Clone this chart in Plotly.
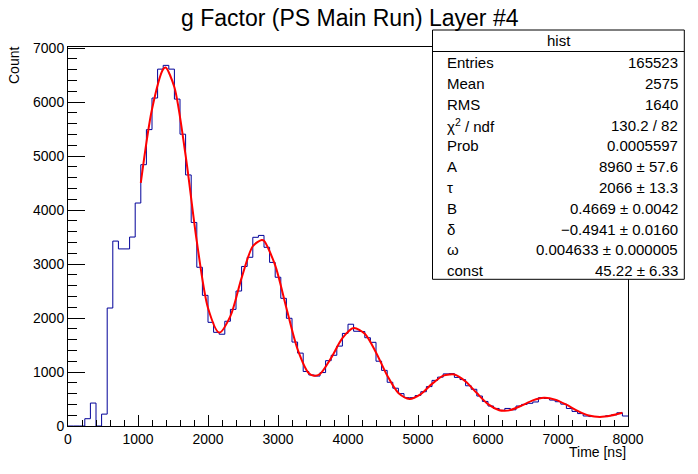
import numpy as np
import plotly.graph_objects as go

# histogram: 100 bins of 80 ns between 0 and 8000 ns
bin_width = 80
bin_edges = np.arange(0, 8000 + bin_width, bin_width)
counts = [
    0, 0, 0, 135, 425, 0, 220, 2185, 3425, 3280,
    3280, 3500, 4130, 4840, 5490, 6075, 6610, 6680, 6610, 6055,
    5405, 4650, 3770, 2940, 2420, 1920, 1735, 1700, 1940, 2160,
    2500, 2955, 3125, 3495, 3530, 3310, 3030, 2755, 2365, 1995,
    1555, 1350, 1010, 945, 925, 990, 1210, 1310, 1480, 1715,
    1885, 1755, 1750, 1635, 1550, 1200, 1030, 810, 700, 600,
    525, 525, 565, 635, 730, 845, 905, 965, 970, 900,
    860, 745, 680, 555, 455, 370, 325, 290, 325, 300,
    370, 400, 420, 445, 525, 510, 480, 450, 405, 325,
    270, 230, 185, 175, 175, 175, 190, 205, 245, 185,
]

# red fit curve
fit_t = [1040, 1200, 1360, 1395, 1520, 1680, 1840, 2000, 2160, 2320,
         2480, 2640, 2767, 2800, 2960, 3120, 3280, 3440, 3510, 3600,
         3760, 3920, 4080, 4240, 4400, 4560, 4720, 4880, 5040, 5200,
         5360, 5452, 5520, 5680, 5840, 6000, 6160, 6238, 6320, 6480,
         6640, 6800, 6960, 7120, 7280, 7440, 7600, 7760, 7920]
fit_y = [4504, 5866, 6609, 6640, 6273, 5013, 3420, 2186, 1730, 2036,
         2743, 3329, 3445, 3430, 2976, 2186, 1419, 976, 932, 964,
         1263, 1627, 1814, 1709, 1362, 934, 610, 499, 590, 780,
         934, 955, 953, 825, 610, 406, 293, 284, 295, 378,
         474, 521, 489, 394, 279, 194, 167, 194, 245]

stats_labels = ["Entries", "Mean", "RMS", "χ<sup>2</sup> / ndf", "Prob", "A",
                "τ", "B", "δ", "ω", "const"]
stats_values = ["165523", "2575", "1640", "130.2 / 82", "0.0005597",
                "8960 ± 57.6", "2066 ± 13.3", "0.4669 ± 0.0042",
                "−0.4941 ± 0.0160", "0.004633 ± 0.000005", "45.22 ± 6.33"]

FONT = "Liberation Sans, Arial, sans-serif"
# page body adds an 8px offset, so the figure is sized/margined in page pixels minus 8
OFF = 8
W, H = 682, 458
L, T = 68, 47          # frame left/top in page pixels
pw, ph = 560, 379      # frame size
R = W - (L - OFF) - pw
B = H - (T - OFF) - ph


def px(x):
    return (x - L) / pw


def py(y):
    return (T + ph - y) / ph


fig = go.Figure()
fig.add_trace(go.Scatter(
    x=bin_edges, y=counts + [counts[-1]],
    mode="lines", line=dict(color="rgb(0,0,153)", width=1, shape="hv"),
    name="hist", hoverinfo="skip",
))
fig.add_trace(go.Scatter(
    x=fit_t, y=fit_y,
    mode="lines", line=dict(color="#ff0000", width=2, shape="spline", smoothing=0.8),
    name="fit",
))

axis_common = dict(
    showline=True, mirror=True, linecolor="black", linewidth=1,
    showgrid=False, zeroline=False, ticks="inside", tickcolor="black",
    tickfont=dict(family=FONT, size=14, color="black"),
)
fig.update_xaxes(range=[0, 8000], dtick=1000, ticklen=11,
                 minor=dict(dtick=200, ticks="inside", ticklen=6, tickcolor="black"),
                 **axis_common)
fig.update_yaxes(range=[0, 7020], dtick=1000, ticklen=17,
                 minor=dict(dtick=200, ticks="inside", ticklen=9, tickcolor="black"),
                 **axis_common)

# stats box
shapes = [
    dict(type="rect", xref="paper", yref="paper", x0=px(432.5), x1=px(684.3),
         y0=py(279.3), y1=py(30), line=dict(color="black", width=1),
         fillcolor="white", layer="above"),
    dict(type="line", xref="paper", yref="paper", x0=px(432.5), x1=px(684.3),
         y0=py(51.5), y1=py(51.5), line=dict(color="black", width=1), layer="above"),
]
annotations = [
    dict(text="hist", x=px(558.5), y=py(40.5), xanchor="center", yanchor="middle"),
]
for i, (lab, val) in enumerate(zip(stats_labels, stats_values)):
    yy = py(62.7 + 20.8 * i)
    annotations.append(dict(text=lab, x=px(445), y=yy, xanchor="left", yanchor="middle"))
    annotations.append(dict(text=val, x=px(680), y=yy, xanchor="right", yanchor="middle"))
for a in annotations:
    a.update(xref="paper", yref="paper", showarrow=False,
             font=dict(family=FONT, size=15, color="black"))

annotations += [
    dict(text="g Factor (PS Main Run) Layer #4", x=px(349.5), y=py(18), xref="paper",
         yref="paper", xanchor="center", yanchor="middle", showarrow=False,
         font=dict(family=FONT, size=23, color="black")),
    dict(text="Time [ns]", x=1.0, y=py(452), xref="paper", yref="paper",
         xanchor="right", yanchor="middle", showarrow=False,
         font=dict(family=FONT, size=14, color="black")),
    dict(text="Count", x=px(14), y=py(66), xref="paper", yref="paper", textangle=-90,
         xanchor="center", yanchor="middle", showarrow=False,
         font=dict(family=FONT, size=14, color="black")),
]

fig.update_layout(
    width=W, height=H,
    margin=dict(l=L - OFF, r=R, t=T - OFF, b=B),
    paper_bgcolor="white", plot_bgcolor="white",
    showlegend=False,
    shapes=shapes, annotations=annotations,
)
fig.write_html("out.html")
